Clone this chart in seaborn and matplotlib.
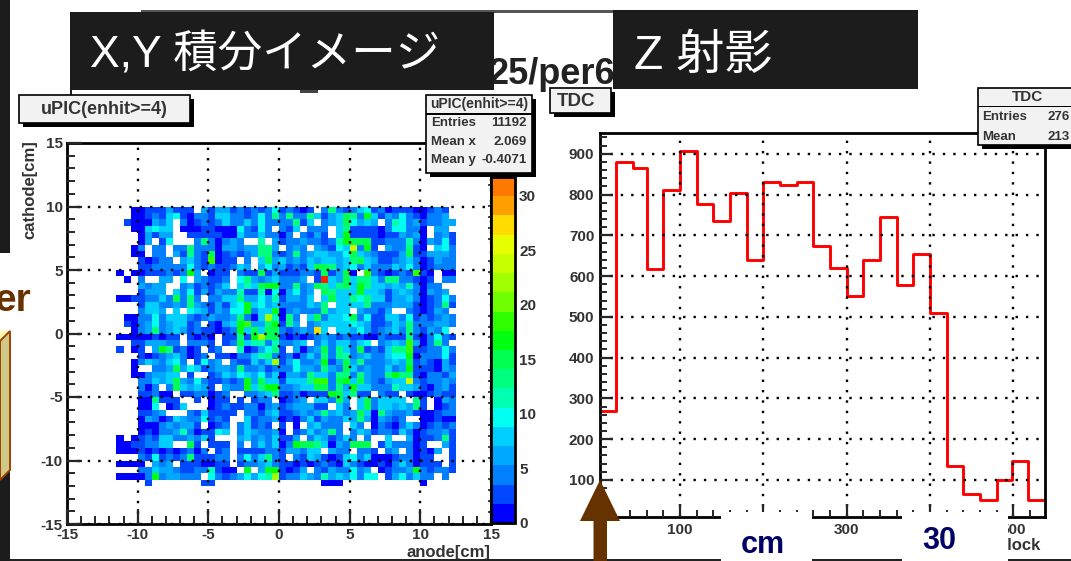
"""
Recreate the uPIC X,Y image and Z (TDC) projection slide.
"""

import matplotlib

matplotlib.use("Agg")

import matplotlib.pyplot as plt
import numpy as np
import seaborn as sns
from matplotlib.colors import ListedColormap
from matplotlib.patches import Polygon, Rectangle
from matplotlib.ticker import FixedLocator, MultipleLocator

# 2D counts, 0.5 cm bins. One char = count in base 36, "." = empty.
# Rows go from y=10 down, columns from x=-11.5 to the right.
ROWS_LEFT = [
    "..11 3336 333. 6366 3434 34a3",
    "..11 3438 a314 4388 4434 a4d4",
    ".311 1648 .413 4348 4484 a444",
    "..11 8a88 .111 3311 1a43 a4.4",
    "...1 6366 ..33 3331 1844 8441",
    "...1 6.3a ...4 d414 64.. b.63",
    "..14 .44. 44d4 4416 6466 dd6.",
    "..11 .44. 63d4 3f13 4346 dd43",
    "...3 1344 .684 3i13 3.4. 8f68",
    "...3 3444 44a4 3433 486. 6a46",
    "1.11 3334 34g6 .133 .433 f363",
    ".1.4 ..66 .a.6 4334 .ad6 4684",
    "...6 466. .463 4348 .8b8 fgg4",
    "...3 666. 84a3 6364 4b33 b1a1",
    "1133 4484 f4d4 .448 8d66 a6b3",
    "...3 8844 64d6 4363 8ag8 a684",
    "...4 886. 8.a8 6364 aag4 88g1",
    ".114 4a48 8843 4644 6d41 8mb1",
    ".314 6a46 8834 .316 8gi6 6dg3",
    "..14 6d46 8634 3313 4g8f 8ff4",
    "1111 1313 3.31 31.3 3d3g mff3",
    "..33 6664 4.44 43.3 4f8b b4b4",
    "3.13 .6gd 3413 .34. .b13 6ad3",
    "...3 1346 8413 4.33 1448 bd43",
    "..14 8648 a4.3 a46. 4338 48m3",
    "..1. .446 f6a8 3466 4d44 6344",
    "..11 4668 8.3. .348 6a86 a481",
    "...4 4868 f64a 4334 34g6 f883",
    "...4 14.4 f868 63.6 44g8 dgg4",
    "...3 3411 .334 4134 ..44 68d3",
    "...1 1d33 3..3 .133 .3.3 44.1",
    "...1 1a.1 38.. .134 3344 1463",
    "...3 346. ..43 8333 3.44 3683",
    "...1 6413 8644 a343 ..83 4461",
    "...1 1146 4663 .134 .483 43.3",
    "...1 3144 6b41 33a8 .486 4461",
    "1.13 4388 4464 83.. .684 6483",
    "1133 4488 ..f3 .333 .4.4 8481",
    "1113 1313 1341 4.34 .333 3443",
    "...4 3a34 34d3 3344 .4a4 8d43",
    "1111 .646 .333 1133 .344 6843",
    "...4 4866 4334 4b31 1.g. 6gg3",
    "1111 4g46 6444 .a43 46a6 abm3",
    ".... 3... .... 33.. .... ....",
]
ROWS_RIGHT = [
    "4313 .4d4 348a 3413 3311 343.",
    "d44d 8368 fd4g 8364 a431 446.",
    "4d38 .468 fa68 6.4b a463 4466",
    "38.4 44.8 d333 314a a441 .66.",
    "4.43 63.8 g333 3133 6461 .463",
    "4464 434b gfff 3344 4b41 64a3",
    "464. 643a 8n4g 3.64 4d31 .8a4",
    "4d46 8866 af86 4333 6f33 6664",
    "4648 6886 8df8 6334 6841 3644",
    "3438 ffd6 8a48 4448 6a41 3444",
    "3344 3f36 f1.i 4313 43i3 1.11",
    "446. 3x86 f8dd 84dd 4431 3.44",
    "4d46 fd8d f8gd 8868 6b41 44..",
    "6a46 .fd8 88g8 8636 8641 646.",
    "6648 .8f8 8dad 8836 6841 34a4",
    "4448 6d.8 888d 4446 6631 34d3",
    "4644 4d68 8.64 436. .431 364.",
    "d4.8 f488 af4a 3388 4a34 3464",
    "d6.4 6888 8a86 3348 6d44 4664",
    "3464 r8.8 86a6 3468 4d43 64a.",
    "1313 4643 4331 1433 3d31 4a43",
    "468. 4848 848a .468 6i61 4d4.",
    ".614 6f4d 84f3 438d di33 44a4",
    "4148 4d4d b468 448a ag14 44a3",
    "6a44 6g36 f6d4 4468 6f34 3163",
    "4a66 4d64 f846 4484 6g33 3164",
    "664d 884d d4d6 44dg dd31 4436",
    "888d ii4f g8f6 4368 8n43 4464",
    "4688 ff4d 6g88 444b 8863 1463",
    "3413 33gf 8d33 .433 .311 3433",
    "346. 884f 6.8f 4888 8.d3 .164",
    "4666 33.8 4.8f 4886 86d3 .134",
    "3464 6d68 46f8 1d64 4631 1344",
    "3148 3644 86d6 1643 4..1 1311",
    ".1.6 8444 .84. 1431 4841 3434",
    ".348 46d4 .486 3443 8413 4463",
    "36.4 8634 84.4 ..8. .613 34d3",
    "4gff d816 4fff .384 4413 ..63",
    "6648 8.64 4.44 3.46 .413 16.3",
    ".438 6313 8a48 1113 4413 3..3",
    "3131 3431 8431 1314 8413 33.3",
    "136. 4364 4a46 .134 46g4 3443",
    "4486 4b68 6a4a a.36 a484 4.4.",
    ".... .111 .... .... ...1 ....",
]
X_EDGES_CM = np.arange(-15, 15.5, 0.5)
FIRST_COL_CM = -11.5
TOP_ROW_CM = 10.0
# bottom -> top colour levels of the palette
PALETTE = [
    "#0000ff", "#0048ff", "#0080ff", "#00a8ff", "#00d0ff", "#00fff0",
    "#00ffb0", "#00ff80", "#00ff50", "#00ff10", "#30ff00", "#70ff00",
    "#a0ff00", "#c8ff00", "#e8ff00", "#ffdc00", "#ffa000", "#ff7800",
]
CBAR_MAX = 31.7
CBAR_TICKS = [0, 5, 10, 15, 20, 25, 30]
CM_TICKS = [-15, -10, -5, 0, 5, 10, 15]

# TDC histogram
TDC_EDGES = [
    4, 23, 43, 60, 80, 100, 120, 140, 160, 180, 200, 220, 240, 260,
    280, 300, 320, 340, 360, 380, 400, 420, 440, 460, 480, 498, 518, 538,
]
TDC_COUNTS = [
    270, 880, 865, 618, 810, 906, 776, 734, 803, 640, 831, 824, 831, 674,
    619, 550, 640, 744, 577, 654, 509, 134, 66, 51, 100, 147, 51,
]
TDC_XTICKS = [100, 200, 300, 400, 500]
# 200 and 400 sit under the white label patches
TDC_XLABELS = ["100", "", "300", "", "500"]
TDC_YTICKS = [100, 200, 300, 400, 500, 600, 700, 800, 900]

W, H = 1071, 561
TICK_COL = "#333333"
DARK = "#1c1c1c"
TICK_SIZE = 11

sns.set_style("white")
plt.rcParams["font.family"] = ["Liberation Sans", "Noto Sans CJK JP", "DejaVu Sans"]
plt.rcParams["font.weight"] = "bold"


def px_axes(x0, y0, x1, y1):
    return fig.add_axes([x0 / W, 1 - y1 / H, (x1 - x0) / W, (y1 - y0) / H])


def style_frame(a, lw=2):
    for side in a.spines.values():
        side.set_visible(True)
        side.set_linewidth(lw)
        side.set_color("black")


def rect(x0, y0, x1, y1, color, z=5, edge="none", lw=0):
    deco.add_patch(Rectangle((x0, y0), x1 - x0, y1 - y0, facecolor=color,
                             edgecolor=edge, linewidth=lw, zorder=z))


def label_box(x0, y0, x1, y1, z=6):
    rect(x0 + 4, y0 + 4, x1 + 4, y1 + 4, "black", z)
    rect(x0, y0, x1, y1, "#f2f2f2", z + 0.1, "black", 1.2)


fig = plt.figure(figsize=(W / 100, H / 100), dpi=100, facecolor="white")

# ---- left panel: heatmap on a 60x60 grid of 0.5 cm cells
n = len(X_EDGES_CM) - 1
grid = np.full((n, n), np.nan)
row0 = int((15 - TOP_ROW_CM) * 2)
col0 = int((FIRST_COL_CM + 15) * 2)
for r, (left, right) in enumerate(zip(ROWS_LEFT, ROWS_RIGHT)):
    text = (left + right).replace(" ", "")
    for c, ch in enumerate(text):
        if ch != ".":
            grid[row0 + r, col0 + c] = int(ch, 36)

cmap = ListedColormap(PALETTE)
cmap.set_over("#ff2000")

ax = px_axes(67, 143, 491, 524)
cax = px_axes(491, 177, 515, 523)
sns.heatmap(grid, ax=ax, cbar_ax=cax, cmap=cmap, vmin=0, vmax=CBAR_MAX,
            xticklabels=False, yticklabels=False)
style_frame(ax)
ax.set_xticks([(v + 15) * 2 for v in CM_TICKS])
ax.set_xticklabels(CM_TICKS)
ax.set_yticks([(15 - v) * 2 for v in CM_TICKS])
ax.set_yticklabels(CM_TICKS, rotation=0)
ax.xaxis.set_minor_locator(MultipleLocator(2))
ax.yaxis.set_minor_locator(MultipleLocator(2))
ax.tick_params(which="major", direction="in", length=10.5, width=1.6, labelsize=TICK_SIZE,
               labelcolor=TICK_COL, bottom=True, left=True, pad=3)
ax.tick_params(which="minor", direction="in", length=5.5, width=1.4, bottom=True, left=True)
ax.set_axisbelow(False)
ax.grid(True, which="major", color="black", lw=1.7, linestyle=(0, (1, 3.4)))

cbar = ax.collections[0].colorbar
cbar.outline.set_linewidth(2)
cbar.outline.set_edgecolor("black")
cax.yaxis.set_major_locator(FixedLocator(CBAR_TICKS))
cax.yaxis.set_minor_locator(MultipleLocator(1))
cax.tick_params(which="major", direction="in", length=8, width=1.6, right=True, left=False,
                labelsize=TICK_SIZE, labelcolor=TICK_COL, pad=3)
cax.tick_params(which="minor", direction="out", length=2.5, width=1.2, left=True, right=False)

# ---- right panel: TDC projection
ax2 = px_axes(600, 133, 1045, 517)
mids = (np.array(TDC_EDGES[:-1]) + np.array(TDC_EDGES[1:])) / 2
sns.histplot(x=mids, weights=TDC_COUNTS, bins=TDC_EDGES, element="step", fill=False,
             color="red", linewidth=2.1, ax=ax2)
ax2.set(xlim=(4, 538), ylim=(9, 951), xlabel="", ylabel="")
style_frame(ax2)
ax2.set_xticks(TDC_XTICKS)
ax2.set_xticklabels(TDC_XLABELS)
ax2.set_yticks(TDC_YTICKS)
ax2.xaxis.set_minor_locator(MultipleLocator(20))
ax2.yaxis.set_minor_locator(MultipleLocator(20))
ax2.tick_params(which="major", direction="in", length=9.5, width=1.6, labelsize=TICK_SIZE,
                labelcolor=TICK_COL, bottom=True, left=True, pad=4)
ax2.tick_params(which="minor", direction="in", length=5, width=1.4, bottom=True, left=True)
ax2.set_axisbelow(False)
ax2.grid(True, which="major", color="black", lw=1.7, linestyle=(0, (1, 3.4)))

# ---- slide furniture on top, in pixel coordinates
deco = fig.add_axes([0, 0, 1, 1], zorder=10)
deco.set(xlim=(0, W), ylim=(H, 0))
deco.axis("off")
deco.patch.set_alpha(0)

# axis titles
deco.text(490, 552, "anode[cm]", ha="right", va="center", fontsize=12, color=TICK_COL)
deco.text(30, 190, "cathode[cm]", ha="center", va="center", rotation=90, fontsize=12, color=TICK_COL)
deco.text(1041, 545, "clock", ha="right", va="center", fontsize=12, color=TICK_COL)
deco.text(598, 534, "0", ha="center", va="center", fontsize=TICK_SIZE, color=TICK_COL)

# slide background bits
rect(0, 0, 10, 253, DARK)
rect(0, 470, 10, H, DARK)
rect(10, 559, W, 560.5, "#222222", 3)
rect(141, 10, 613, 12.5, "#555555", 3)
rect(70, 88, 72, 96, "#222222", 3)
rect(300, 89, 318, 93, "#444444", 3)
deco.text(489, 84, "25/per6", ha="left", va="baseline", fontsize=26, color="#222222", zorder=4)
deco.text(31, 311, "er", ha="right", va="baseline", fontsize=28, color="#663300", zorder=5)
deco.add_patch(Polygon([(0, 331), (10, 331), (0, 341)], facecolor="#fff8b0", edgecolor="none", zorder=5))
deco.add_patch(Polygon([(0, 341), (10, 331), (10, 470), (0, 480)], facecolor="#cfc987",
                       edgecolor="#a04000", linewidth=1.4, zorder=5.1))

# dark captions
rect(70, 12, 494, 90, DARK)
rect(613, 10, 918, 89, DARK)
deco.text(90, 55, "X,Y 積分イメージ", ha="left", va="center", fontsize=32, fontweight="normal",
          color="white", zorder=6)
deco.text(634, 56, "Z 射影", ha="left", va="center", fontsize=34.5, fontweight="normal",
          color="white", zorder=6)

# title boxes
label_box(19, 95, 190, 123)
deco.text(104, 109, "uPIC(enhit>=4)", ha="center", va="center", fontsize=13, color=TICK_COL, zorder=7)
label_box(550, 88, 611, 113)
deco.text(576, 101, "TDC", ha="center", va="center", fontsize=13.5, color=TICK_COL, zorder=7)

# stat boxes
label_box(426, 95, 532, 173)
rect(426, 113, 532, 114.5, "black", 7)
deco.text(479, 104, "uPIC(enhit>=4)", ha="center", va="center", fontsize=10, color=TICK_COL, zorder=7)
for y, name, val in [(123, "Entries", "11192"), (142, "Mean x", "2.069"), (160, "Mean y", "-0.4071")]:
    deco.text(431, y, name, ha="left", va="center", fontsize=9.5, color=TICK_COL, zorder=7)
    deco.text(527, y, val, ha="right", va="center", fontsize=9.5, color=TICK_COL, zorder=7)

label_box(978, 88, 1085, 145)
rect(978, 105.5, 1085, 107, "black", 7)
deco.text(1028, 97, "TDC", ha="center", va="center", fontsize=11, color=TICK_COL, zorder=7)
for y, name, val in [(117, "Entries", "276"), (137, "Mean", "213")]:
    deco.text(982, y, name, ha="left", va="center", fontsize=9.5, color=TICK_COL, zorder=7)
    deco.text(1048, y, val, ha="left", va="center", fontsize=9.5, color=TICK_COL, zorder=7)

# brown arrow and white label patches
deco.add_patch(Polygon([(600, 480), (620, 521), (607, 521), (607, H), (593.5, H), (593.5, 521), (580, 521)],
                       facecolor="#663300", edgecolor="none", zorder=8))
rect(721, 512, 812, H, "white", 8)
rect(902, 512, 1008, H, "white", 8)
deco.text(763, 545, "cm", ha="center", va="center", fontsize=22, color="#000066", zorder=9)
deco.text(939, 541, "30", ha="center", va="center", fontsize=22, color="#000066", zorder=9)

fig.savefig("out.png", dpi=100)
